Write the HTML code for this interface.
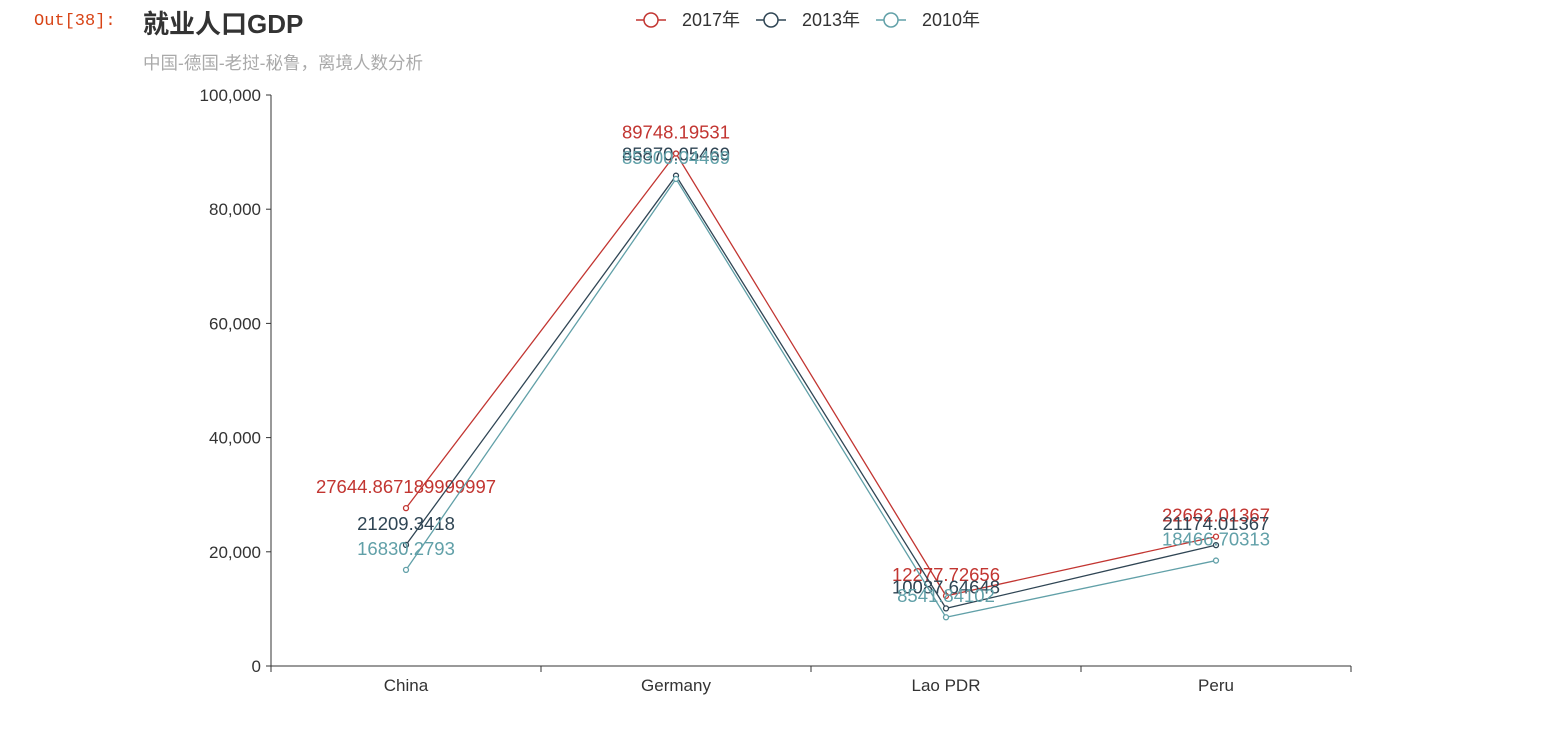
<!DOCTYPE html>
<html><head><meta charset="utf-8"><style>
body{margin:0;background:#fff;width:1567px;height:732px;overflow:hidden;font-family:"Liberation Sans","Noto Sans CJK SC",sans-serif}
</style></head><body>
<svg width="1567" height="732">
<text x="34" y="25" font-family="Liberation Mono,monospace" font-size="17" fill="#d84315">Out[38]:</text>
<text x="143" y="33" font-size="26" font-weight="bold" fill="#333">就业人口GDP</text>
<text x="143" y="69" font-size="17.5" fill="#aaa">中国-德国-老挝-秘鲁，离境人数分析</text>
<g id="legend"></g>
<g id="axes"></g>
<g id="series"></g>
</svg>
<script>
const categories=["China","Germany","Lao PDR","Peru"];
const seriesNames=["2017年","2013年","2010年"];
const s2017=[27644.867189999997,89748.19531,12277.72656,22662.01367];
const s2013=[21209.3418,85870.05469,10087.64648,21174.01367];
const s2010=[16830.2793,85300.04469,8541.84102,18466.70313];
const yTicks=[0,20000,40000,60000,80000,100000];
const colors=["#c23531","#2f4554","#61a0a8"];
const NS="http://www.w3.org/2000/svg";
const X0=271,X1=1351,Y0=666,Y1=95,YMAX=100000;
const bw=(X1-X0)/categories.length;
const xs=i=>X0+bw*(i+0.5);
const ys=v=>Y0-(v/YMAX)*(Y0-Y1);
function mk(tag,attrs,parent,txt){const e=document.createElementNS(NS,tag);for(const k in attrs)e.setAttribute(k,attrs[k]);if(txt!=null)e.textContent=txt;parent.appendChild(e);return e;}
const ax=document.getElementById('axes');
let l=mk('line',{x1:X0,y1:Y1,x2:X0,y2:Y0,stroke:'#333'},ax);


l=mk('line',{x1:X0,y1:Y0,x2:X1,y2:Y0,stroke:'#333'},ax);


yTicks.forEach(v=>{const y=ys(v);mk('line',{x1:X0-5,y1:y,x2:X0,y2:y,stroke:'#333'},ax);
const t=mk('text',{x:X0-10,y:y+6,'text-anchor':'end','font-size':17,fill:'#333'},ax,v.toLocaleString('en-US'));

});
for(let i=0;i<=categories.length;i++){const x=X0+bw*i;mk('line',{x1:x,y1:Y0,x2:x,y2:Y0+6,stroke:'#333'},ax);}
categories.forEach((c,i)=>{const t=mk('text',{x:xs(i),y:Y0+25,'text-anchor':'middle','font-size':17,fill:'#333'},ax,c);

});
const sg=document.getElementById('series');
[s2017,s2013,s2010].forEach((d,k)=>{
const g=mk('g',{},sg);


mk('polyline',{points:d.map((v,i)=>xs(i)+','+ys(v)).join(' '),fill:'none',stroke:colors[k],'stroke-width':1.3},g);
d.forEach((v,i)=>{const p=mk('circle',{cx:xs(i),cy:ys(v),r:2.5,fill:'#fff',stroke:colors[k],'stroke-width':1.3},g);


const t=mk('text',{x:xs(i),y:ys(v)-15,'text-anchor':'middle','font-size':18.5,fill:colors[k]},g,String(v));

});
});
const lg=document.getElementById('legend');
const lx=[640,760,880];
seriesNames.forEach((n,k)=>{const g=mk('g',{},lg);


const x=lx[k];
mk('line',{x1:x-4,y1:20,x2:x+26,y2:20,stroke:colors[k],'stroke-width':1.5},g);
mk('circle',{cx:x+11,cy:20,r:7,fill:'#fff',stroke:colors[k],'stroke-width':1.5},g);
mk('text',{x:x+42,y:26,'font-size':18,fill:'#333'},g,n);});
</script>
</body></html>
